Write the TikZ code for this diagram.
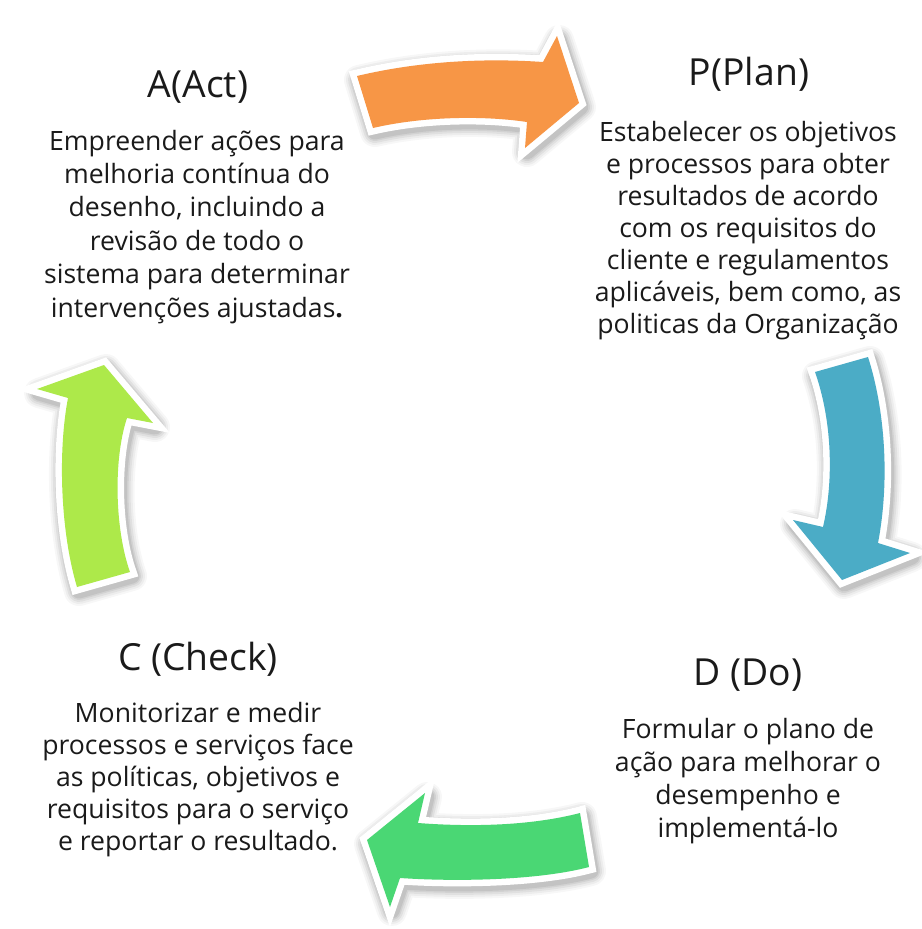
\documentclass[tikz,border=0pt]{standalone}
\usepackage{fontspec}
\setmainfont{Open Sans}
\definecolor{arrorange}{HTML}{F79646}
\definecolor{arrblue}{HTML}{4BACC6}
\definecolor{arrgreen}{HTML}{4AD774}
\definecolor{arrlime}{HTML}{ADE94A}
\definecolor{txt}{HTML}{1A1A1A}
\tikzset{
  ttl/.style={anchor=base, inner sep=0pt, text=txt, font=\fontsize{37.3}{40}\selectfont},
  bodytext/.style={anchor=base, inner sep=0pt, align=center, text=txt, font=\fontsize{26.6}{33}\selectfont},
  shadowlayer/.style={draw=black, line join=round, shift={(2,4)}},
  whiteedge/.style={fill=white, draw=white, line width=13pt, line join=miter},
}
\newcommand{\fancyarrow}[2]{%
  \foreach \w/\o in {30/0.03, 26/0.04, 22/0.05, 18/0.06, 15/0.07}{
    \path[shadowlayer, line width=\w pt, draw opacity=\o] #1;
  }
  \path[whiteedge] #1;
  \fill[#2] #1;
}
\begin{document}
\begin{tikzpicture}[x=1pt, y=-1pt]
\useasboundingbox (0,0) rectangle (921,929);
\fill[white] (0,0) rectangle (921,929);

% orange arrow (A -> P)
\fancyarrow{(357,76) .. controls (420,61) and (485,58) .. (543,62) -- (557,36) -- (579,103) -- (525,148) -- (527,122) .. controls (480,115) and (420,117) .. (373,128) -- cycle}{arrorange}

% blue arrow (P -> D)
\fancyarrow{(868,357) .. controls (885,410) and (890,480) .. (878,543) -- (910,553) -- (842,580) -- (793,520) -- (823,527) .. controls (834,480) and (832,420) .. (815,372) -- cycle}{arrblue}

% green arrow (D -> C)
\fancyarrow{(580,813) .. controls (530,826) and (470,827) .. (418,823) -- (425,793) -- (367,840) -- (390,907) -- (400,878) .. controls (460,882) and (540,880) .. (589,867) -- cycle}{arrgreen}

% lime arrow (C -> A)
\fancyarrow{(77,587) .. controls (60,530) and (58,450) .. (68,398) -- (37,389) -- (104,365) -- (153,423) -- (127,418) .. controls (113,460) and (115,530) .. (130,572) -- cycle}{arrlime}

% texts (base anchor = baseline of the last line)
\node[ttl] (actT) at (198,97) {A(Act)};
\node[bodytext, font=\fontsize{26.6}{33.4}\selectfont] (actB) at (197,317) {Empreender ações para\\melhoria contínua do\\desenho, incluindo a\\revisão de todo o\\sistema para determinar\\intervenções ajustadas\textbf{.}};

\node[ttl] (planT) at (749,85) {P(Plan)};
\node[bodytext, font=\fontsize{26.6}{32}\selectfont] (planB) at (748,333) {Estabelecer os objetivos\\e processos para obter\\resultados de acordo\\com os requisitos do\\cliente e regulamentos\\aplicáveis, bem como, as\\politicas da Organização};

\node[ttl] (doT) at (748,685) {D (Do)};
\node[bodytext] (doB) at (748,837) {Formular o plano de\\ação para melhorar o\\desempenho e\\implementá-lo};

\node[ttl] (chkT) at (198,670) {C (Check)};
\node[bodytext, font=\fontsize{26.6}{32}\selectfont] (chkB) at (198,850) {Monitorizar e medir\\processos e serviços face\\as políticas, objetivos e\\requisitos para o serviço\\e reportar o resultado.};
\end{tikzpicture}
\end{document}
